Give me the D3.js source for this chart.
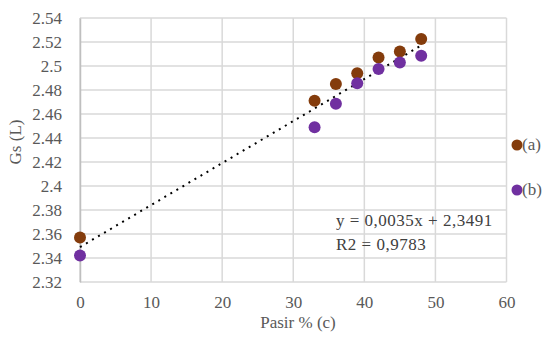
<!DOCTYPE html>
<html>
<head>
<meta charset="utf-8">
<script src="https://cdn.jsdelivr.net/npm/d3@7"></script>
<style>
  body { margin: 0; background: #fff; }
  svg text { font-family: "Liberation Serif", "Times New Roman", serif; fill: #595959; }
</style>
</head>
<body>
<svg id="chart" width="545" height="338"></svg>
<script>
// data
const pasir = [0, 33, 36, 39, 42, 45, 48];
const seriesA = [2.357, 2.471, 2.485, 2.494, 2.507, 2.512, 2.5225];
const seriesB = [2.342, 2.449, 2.4686, 2.4856, 2.4975, 2.503, 2.5086];
const seriesNames = ["(a)", "(b)"];
const seriesColors = ["#843C0C", "#7030A0"];
const xTicks = [0, 10, 20, 30, 40, 50, 60];
const yTicks = [2.32, 2.34, 2.36, 2.38, 2.4, 2.42, 2.44, 2.46, 2.48, 2.5, 2.52, 2.54];
const trend = {slope: 0.0035, intercept: 2.3491, from: 0, to: 48};
const trendLabels = ["y = 0,0035x + 2,3491", "R2 = 0,9783"];

const margin = {top: 18, right: 38, bottom: 56, left: 80};
const width = 545, height = 338;
const fs = "17px";

const svg = d3.select("#chart");

const x = d3.scaleLinear().domain([0, 60]).range([margin.left, width - margin.right - 0.5]);
const y = d3.scaleLinear().domain([2.32, 2.54]).range([height - margin.bottom, margin.top]);

// gridlines
const grid = svg.append("g").attr("class", "grid");
grid.selectAll(".gx").data(xTicks).enter().append("line")
    .attr("x1", d => x(d)).attr("x2", d => x(d))
    .attr("y1", y(2.54)).attr("y2", y(2.32))
    .attr("stroke", "#d9d9d9").attr("stroke-width", 1.5);
grid.selectAll(".gy").data(yTicks).enter().append("line")
    .attr("x1", x(0)).attr("x2", x(60))
    .attr("y1", d => y(d)).attr("y2", d => y(d))
    .attr("stroke", "#d9d9d9").attr("stroke-width", 1.5);

// axes
const xAxis = svg.append("g")
    .attr("transform", `translate(0,${y(2.32)})`)
    .call(d3.axisBottom(x).tickValues(xTicks).tickSize(0).tickPadding(14).tickFormat(d3.format("d")));
xAxis.select(".domain").remove();
xAxis.selectAll("text").style("font-size", fs);

const yAxis = svg.append("g")
    .attr("transform", `translate(${x(0)},0)`)
    .call(d3.axisLeft(y).tickValues(yTicks).tickSize(0).tickPadding(18).tickFormat(d => d3.format("")(+d.toFixed(2))));
yAxis.select(".domain").attr("stroke", "#bfbfbf").attr("stroke-width", 1.5);
yAxis.selectAll("text").style("font-size", fs);

// axis titles
svg.append("text")
    .attr("x", 298).attr("y", 328)
    .attr("text-anchor", "middle").style("font-size", fs)
    .text("Pasir % (c)");
svg.append("text")
    .attr("transform", `translate(21,142) rotate(-90)`)
    .attr("text-anchor", "middle").style("font-size", fs)
    .text("Gs (L)");

// trendline (dotted)
svg.append("line")
    .attr("x1", x(trend.from)).attr("y1", y(trend.slope * trend.from + trend.intercept))
    .attr("x2", x(trend.to)).attr("y2", y(trend.slope * trend.to + trend.intercept))
    .attr("stroke", "#000").attr("stroke-width", 2)
    .attr("stroke-dasharray", "2,5");

// points
[seriesA, seriesB].forEach((vals, i) => {
    svg.append("g").selectAll("circle")
        .data(vals.map((v, j) => ({x: pasir[j], y: v})))
        .enter().append("circle")
        .attr("cx", d => x(d.x)).attr("cy", d => y(d.y))
        .attr("r", 6).attr("fill", seriesColors[i]);
});

// trend label
svg.selectAll(".tl").data(trendLabels).enter().append("text")
    .attr("x", 336).attr("y", (d, i) => 226 + i * 24)
    .style("font-size", fs).style("letter-spacing", "0.5px").style("fill", "#404040")
    .text(d => d);

// legend
const leg = svg.selectAll(".leg").data(seriesNames).enter().append("g")
    .attr("transform", (d, i) => `translate(517,${145 + i * 45})`);
leg.append("circle").attr("r", 5.5).attr("fill", (d, i) => seriesColors[i]);
leg.append("text").attr("x", 5).attr("y", 5).style("font-size", fs).text(d => d);
</script>
</body>
</html>
